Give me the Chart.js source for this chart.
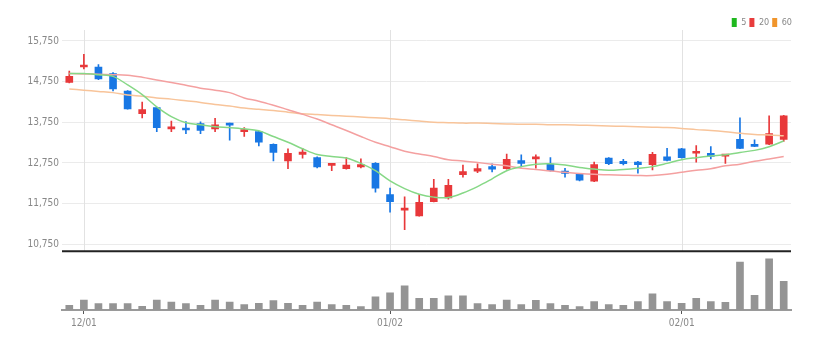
<!DOCTYPE html>
<html>
<head>
<meta charset="utf-8">
<script src="https://cdn.jsdelivr.net/npm/chart.js@4.4.1/dist/chart.umd.min.js"></script>
<style>
html, body { margin: 0; padding: 0; background: #fff; }
#wrap { width: 831px; height: 348px; }
</style>
</head>
<body>
<div id="wrap"><canvas id="stock-chart" width="831" height="348"></canvas></div>
<script>
// Daily candles, 11/30 - 02/10
var dates = ['11/30','12/01','12/02','12/05','12/06','12/07','12/08','12/09','12/12','12/13',
    '12/14','12/15','12/16','12/19','12/20','12/21','12/22','12/23','12/26','12/27',
    '12/28','12/29','01/02','01/03','01/04','01/05','01/06','01/09','01/10','01/11',
    '01/12','01/13','01/16','01/17','01/18','01/19','01/20','01/25','01/26','01/27',
    '01/30','01/31','02/01','02/02','02/03','02/06','02/07','02/08','02/09','02/10'];
var tickDates = ['12/01', '01/02', '02/01'];
var priceTicks = [10750, 11750, 12750, 13750, 14750, 15750];

var openPrice = [14730,15110,15110,14950,14520,13960,14110,13590,13610,13720,
    13590,13720,13520,13520,13210,12800,12960,12880,12690,12610,
    12650,12740,11970,11590,11450,11800,11890,12460,12550,12660,
    12610,12810,12850,12720,12550,12470,12300,12870,12790,12770,
    12710,12900,13100,12990,12990,12920,13330,13210,13210,13330];
var highPrice = [15010,15420,15170,14970,14530,14250,14120,13780,13770,13760,
    13850,13730,13620,13530,13220,13100,13110,12900,12740,12880,
    12850,12760,12130,11920,11980,12350,12350,12700,12730,12730,
    12970,12950,12950,12880,12620,12490,12770,12880,12840,12790,
    13010,13110,13110,13180,13150,12960,13860,13320,13910,13920];
var lowPrice = [14720,15060,14800,14520,14070,13860,13520,13520,13470,13470,
    13520,13310,13400,13170,12800,12610,12870,12630,12560,12600,
    12630,12030,11540,11110,11440,11790,11860,12400,12510,12530,
    12600,12650,12620,12550,12400,12310,12290,12710,12700,12500,
    12580,12800,12870,12770,12850,12740,13100,13150,13200,13280];
var closePrice = [14880,15150,14820,14570,14080,14060,13620,13640,13560,13550,
    13690,13680,13560,13260,13010,12990,13020,12650,12730,12700,
    12710,12130,11800,11630,11780,12130,12200,12540,12610,12600,
    12840,12740,12880,12560,12490,12330,12710,12730,12730,12710,
    12960,12810,12880,13030,12910,12950,13110,13160,13470,13910];

var ma5 = [14950,14950,14920,14880,14670,14430,14130,13890,13740,13690,
    13640,13620,13590,13540,13400,13260,13100,12960,12910,12870,
    12740,12560,12310,12120,11980,11910,11900,12010,12170,12360,
    12560,12660,12720,12730,12700,12640,12600,12570,12590,12620,
    12660,12740,12830,12880,12920,12950,13010,13060,13150,13290];
var ma20 = [14950,14940,14930,14920,14910,14860,14790,14730,14660,14590,
    14540,14480,14350,14270,14170,14060,13950,13830,13690,13550,
    13400,13260,13150,13040,12970,12910,12830,12800,12760,12720,
    12680,12620,12590,12550,12520,12490,12470,12460,12450,12440,
    12440,12470,12520,12570,12610,12680,12720,12790,12850,12910];
var ma60 = [14570,14540,14510,14480,14420,14390,14350,14320,14280,14240,
    14190,14150,14100,14070,14040,14000,13960,13940,13920,13900,
    13880,13860,13840,13810,13780,13750,13740,13730,13730,13720,
    13710,13700,13700,13690,13690,13680,13670,13660,13650,13640,
    13630,13620,13600,13570,13550,13520,13480,13450,13440,13420];

var volume = [28000,60000,38000,38000,38000,22000,60000,48000,38000,28000,
    60000,48000,32000,40000,56000,40000,28000,48000,32000,28000,
    20000,80000,104000,146000,70000,70000,86000,86000,38000,32000,
    60000,32000,58000,38000,28000,20000,50000,32000,28000,50000,
    98000,50000,40000,70000,50000,46000,288000,88000,308000,172000];

var upColor = '#e8383a';
var downColor = '#1877e4';
var fontFamily = "'DejaVu Sans Condensed', 'DejaVu Sans', sans-serif";

var candleColors = closePrice.map(function(c, i) {
    return c >= openPrice[i] ? upColor : downColor;
});
var bodies = openPrice.map(function(o, i) { return [o, closePrice[i]]; });
var wicks = lowPrice.map(function(l, i) { return [l, highPrice[i]]; });

// keep the legend strip thin so the price panel starts where it should
var legendHeight = {
    id: 'legendHeight',
    beforeLayout: function(chart) {
        var lg = chart.legend;
        if (lg && !lg._thin) {
            var fit = lg.fit, draw = lg.draw;
            lg.fit = function() {
                fit.call(this);
                this.height = 15;
            };
            lg.draw = function() {
                this.ctx.save();
                this.ctx.translate(4, 0);
                draw.call(this);
                this.ctx.restore();
            };
            lg._thin = true;
        }
    }
};

// vertical grid only inside the price panel + dark separator line
var panelLines = {
    id: 'panelLines',
    beforeDatasetsDraw: function(chart) {
        var ctx = chart.ctx, x = chart.scales.x, y = chart.scales.y;
        ctx.save();
        ctx.strokeStyle = '#e2e2e2';
        ctx.lineWidth = 1;
        x.ticks.forEach(function(t) {
            var px = Math.round(x.getPixelForValue(t.value)) + 0.5;
            ctx.beginPath();
            ctx.moveTo(px, y.top);
            ctx.lineTo(px, y.bottom);
            ctx.stroke();
        });
        ctx.restore();
    },
    afterDatasetsDraw: function(chart) {
        var ctx = chart.ctx, y = chart.scales.y, area = chart.chartArea;
        ctx.save();
        ctx.strokeStyle = '#222';
        ctx.lineWidth = 2;
        ctx.beginPath();
        ctx.moveTo(area.left, y.bottom);
        ctx.lineTo(area.right, y.bottom);
        ctx.stroke();
        ctx.restore();
    }
};

var ctx = document.getElementById('stock-chart');
var stockChart = new Chart(ctx, {
    type: 'bar',
    data: {
        labels: dates,
        datasets: [{
            label: 'wick',
            data: wicks,
            yAxisID: 'y',
            backgroundColor: candleColors,
            barThickness: 1,
            grouped: false,
            order: 3
        }, {
            label: 'body',
            data: bodies,
            yAxisID: 'y',
            backgroundColor: candleColors,
            barThickness: 7,
            minBarLength: 2,
            grouped: false,
            order: 2
        }, {
            label: 'volume',
            data: volume,
            yAxisID: 'yv',
            backgroundColor: '#949494',
            barThickness: 7,
            grouped: false,
            order: 2
        }, {
            type: 'line',
            label: '5',
            data: ma5,
            yAxisID: 'y',
            borderColor: '#86d886',
            legendColor: '#1fb81f',
            borderWidth: 1.5,
            pointRadius: 0,
            tension: 0.35,
            order: 1
        }, {
            type: 'line',
            label: '20',
            data: ma20,
            yAxisID: 'y',
            borderColor: '#f4a0a0',
            legendColor: '#e83c3c',
            borderWidth: 1.5,
            pointRadius: 0,
            tension: 0.35,
            order: 1
        }, {
            type: 'line',
            label: '60',
            data: ma60,
            yAxisID: 'y',
            borderColor: '#f8c49a',
            legendColor: '#f0952c',
            borderWidth: 1.5,
            pointRadius: 0,
            tension: 0.35,
            order: 1
        }]
    },
    options: {
        responsive: false,
        animation: false,
        layout: { padding: { left: 0, right: 40, top: 15, bottom: 16 } },
        plugins: {
            tooltip: { enabled: false },
            legend: {
                position: 'top',
                align: 'end',
                labels: {
                    boxWidth: 5,
                    boxHeight: 9,
                    padding: 3,
                    color: '#888',
                    font: { family: fontFamily, size: 9 },
                    generateLabels: function(chart) {
                        return chart.data.datasets.map(function(ds, i) {
                            if (!ds.legendColor) return null;
                            return { text: ds.label, fillStyle: ds.legendColor, strokeStyle: ds.legendColor,
                                lineWidth: 0, datasetIndex: i, hidden: false, fontColor: '#888' };
                        }).filter(Boolean);
                    }
                }
            }
        },
        scales: {
            x: {
                offset: true,
                grid: { offset: false, drawOnChartArea: false, color: '#555', tickLength: 4 },
                border: { color: '#9a9a9a', width: 2 },
                ticks: { autoSkip: false, maxRotation: 0, color: '#888', padding: 3,
                    font: { family: fontFamily, size: 10 } },
                afterBuildTicks: function(scale) {
                    scale.ticks = scale.ticks.filter(function(t) {
                        return tickDates.indexOf(dates[t.value]) >= 0;
                    });
                }
            },
            yv: {
                position: 'left',
                stack: 'panel',
                stackWeight: 59,
                min: 0,
                max: 354000,
                grid: { display: false },
                border: { display: false },
                ticks: { display: false },
                afterFit: function(scale) { scale.width = 62; }
            },
            y: {
                position: 'left',
                stack: 'panel',
                stackWeight: 222,
                min: 10580,
                max: 16020,
                grid: { color: '#ebebeb', drawTicks: false },
                border: { display: false },
                ticks: { color: '#888', padding: 3, font: { family: fontFamily, size: 10 },
                    callback: function(v) { return v.toLocaleString('en-US'); } },
                afterBuildTicks: function(scale) {
                    scale.ticks = priceTicks.map(function(v) { return { value: v }; });
                },
                afterFit: function(scale) { scale.width = 62; }
            }
        }
    },
    plugins: [legendHeight, panelLines]
});
</script>
</body>
</html>
